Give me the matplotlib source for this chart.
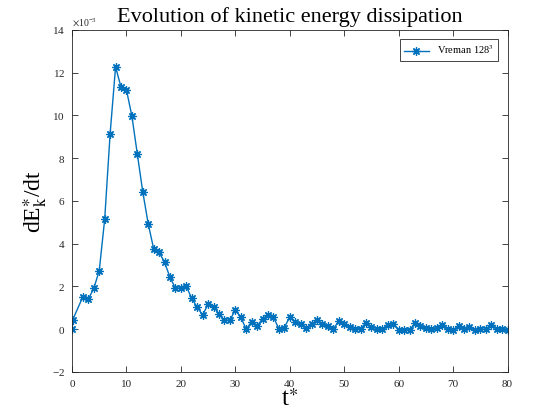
import matplotlib
matplotlib.use("Agg")
import matplotlib.pyplot as plt
import numpy as np
from matplotlib.ticker import ScalarFormatter

# time samples t*
t_star = [0, 0.1, 2, 3, 4, 5, 6, 7, 8, 9, 10, 11, 12, 13, 14, 15, 16, 17, 18, 19,
          20, 21, 22, 23, 24, 25, 26, 27, 28, 29, 30, 31, 32, 33, 34, 35, 36, 37, 38, 39,
          40, 41, 42, 43, 44, 45, 46, 47, 48, 49, 50, 51, 52, 53, 54, 55, 56, 57, 58, 59,
          60, 61, 62, 63, 64, 65, 66, 67, 68, 69, 70, 71, 72, 73, 74, 75, 76, 77, 78, 79, 80]

# dE_k*/dt in units of 1e-3
dEdt_e3 = [0.0, 0.43, 1.52, 1.41, 1.91, 2.74, 5.14, 9.15, 12.27, 11.33, 11.2, 9.97, 8.19,
           6.42, 4.93, 3.76, 3.6, 3.13, 2.43, 1.91, 1.94, 2.0, 1.44, 1.02, 0.67, 1.17,
           1.06, 0.70, 0.42, 0.43, 0.9, 0.56, 0.0, 0.36, 0.14, 0.5, 0.65, 0.57, 0.02,
           0.08, 0.58, 0.35, 0.23, 0.04, 0.23, 0.42, 0.23, 0.15, 0.0, 0.39, 0.26, 0.12,
           0.03, 0.02, 0.31, 0.1, 0.03, 0.0, 0.18, 0.26, -0.02, -0.02, -0.03, 0.27, 0.15,
           0.05, 0.0, 0.05, 0.18, 0.0, -0.03, 0.15, 0.0, 0.1, -0.04, 0.0, 0.0, 0.18, 0.03,
           0.0, -0.04]

x_ticks = [0, 10, 20, 30, 40, 50, 60, 70, 80]
y_ticks = [-2, 0, 2, 4, 6, 8, 10, 12, 14]

plt.rcParams['font.family'] = ['Liberation Serif', 'DejaVu Serif']
plt.rcParams['mathtext.fontset'] = 'stix'

fig = plt.figure(figsize=(5.6, 4.2), dpi=100)
ax = fig.add_axes([0.1286, 0.1143, 0.7777, 0.8143])

dEdt = np.array(dEdt_e3) * 1e-3
# MATLAB-like '*' marker: 8-spoke asterisk
ax.plot(t_star, dEdt, color='#0072BD', linewidth=1.0, marker=(8, 2, 0),
        markersize=6, markeredgewidth=0.9, label=r'Vreman 128$^3$')

ax.set_xlim(0, 80)
ax.set_ylim(-2e-3, 14e-3)
ax.set_xticks(x_ticks)
ax.set_yticks(np.array(y_ticks) * 1e-3)

fmt = ScalarFormatter(useMathText=True)
fmt.set_powerlimits((-3, -3))
ax.yaxis.set_major_formatter(fmt)
ax.yaxis.get_offset_text().set_fontsize(7)
ax.yaxis.get_offset_text().set_color('#404040')

edge = '#262626'
for s in ax.spines.values():
    s.set_color(edge)
    s.set_linewidth(0.6)
ax.tick_params(direction='in', top=True, right=True, length=4, width=0.6,
               colors=edge, labelsize=8)
ax.tick_params(axis='x', pad=6)
ax.tick_params(axis='y', pad=5)

ax.set_title('Evolution of kinetic energy dissipation', fontsize=16, pad=6)
ax.set_xlabel(r't$^{\ast}$', fontsize=18, labelpad=0)
ax.set_ylabel(r'dE$^{\ast}_{\mathrm{k}}$/dt', fontsize=17, labelpad=2)

leg = ax.legend(loc='upper right', fontsize=7.5, fancybox=False, framealpha=1,
                edgecolor=edge, handlelength=2.4, borderpad=0.4,
                borderaxespad=0.9)
leg.get_frame().set_linewidth(0.6)

fig.savefig('out.png', dpi=100)
